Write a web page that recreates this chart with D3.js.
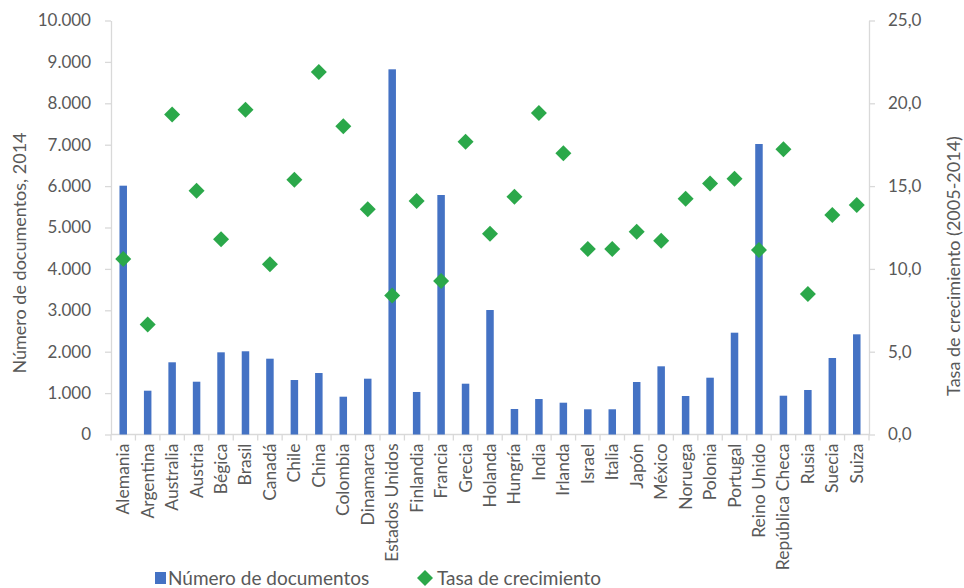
<!DOCTYPE html>
<html>
<head>
<meta charset="utf-8">
<script src="https://cdn.jsdelivr.net/npm/d3@7"></script>
<style>
  html, body { margin: 0; padding: 0; background: #fff; }
  svg { display: block; font-family: Lato, "Noto Sans", sans-serif; }
</style>
</head>
<body>
<svg id="chart" width="964" height="588"></svg>
<script>
const paises = ["Alemania","Argentina","Australia","Austria","Bégica","Brasil","Canadá","Chile","China","Colombia","Dinamarca","Estados Unidos","Finlandia","Francia","Grecia","Holanda","Hungría","India","Irlanda","Israel","Italia","Japón","México","Noruega","Polonia","Portugal","Reino Unido","República Checa","Rusia","Suecia","Suiza"];
const documentos = [6010,1058,1744,1275,1985,2010,1831,1316,1485,913,1348,8821,1027,5785,1227,3007,616,857,768,609,609,1268,1647,930,1372,2459,7017,937,1075,1848,2420];
const crecimiento = [10.6,6.65,19.33,14.72,11.79,19.61,10.28,15.39,21.89,18.61,13.6,8.4,14.1,9.27,17.68,12.13,14.36,19.41,16.98,11.2,11.2,12.25,11.7,14.24,15.15,15.45,11.14,17.22,8.48,13.25,13.86];
const ticksIzq = [0,1000,2000,3000,4000,5000,6000,7000,8000,9000,10000];
const ticksDer = [0,5,10,15,20,25];
const serieBarras = "Número de documentos";
const serieRombos = "Tasa de crecimiento";
const tituloIzq = "Número de documentos, 2014";
const tituloDer = "Tasa de crecimiento (2005-2014)";

const azul = "#4472C4", verde = "#2BA84A", gris = "#D9D9D9", texto = "#595959";
const svg = d3.select("#chart");
const m = { left: 111, right: 869, top: 20.5, bottom: 434.5 };

const x = d3.scaleBand().domain(paises).range([m.left, m.right]).padding(0);
const yIzq = d3.scaleLinear().domain([0, 10000]).range([m.bottom, m.top]);
const yDer = d3.scaleLinear().domain([0, 25]).range([m.bottom, m.top]);

const local = d3.formatLocale({ decimal: ",", thousands: ".", grouping: [3], currency: ["", ""] });
const fmtMiles = local.format(",.0f");
const fmtDec = local.format(".1f");

function estiloEje(g) {
  g.select(".domain").attr("stroke", gris).attr("stroke-width", 1.3);
  g.selectAll(".tick line").attr("stroke", gris).attr("stroke-width", 1.3);
  g.selectAll(".tick text").attr("fill", texto).style("font-family", "Lato, sans-serif");
}

// Eje izquierdo
svg.append("g")
  .attr("transform", `translate(${m.left},0)`)
  .call(d3.axisLeft(yIzq).tickValues(ticksIzq).tickFormat(fmtMiles).tickSize(6).tickPadding(14).tickSizeOuter(0))
  .call(estiloEje)
  .call(g => g.selectAll(".tick text").style("font-size", "17px"));

// Eje derecho
svg.append("g")
  .attr("transform", `translate(${m.right},0)`)
  .call(d3.axisRight(yDer).tickValues(ticksDer).tickFormat(fmtDec).tickSize(6).tickPadding(13).tickSizeOuter(0))
  .call(estiloEje)
  .call(g => g.selectAll(".tick text").style("font-size", "17px"));

// Eje de categorías
const ejeX = svg.append("g").attr("transform", `translate(0,${m.bottom})`);
ejeX.append("line").attr("x1", m.left).attr("x2", m.right).attr("stroke", gris).attr("stroke-width", 1.3);
const bordes = paises.map(p => x(p)).concat([m.right]);
ejeX.selectAll("line.sep").data(bordes).join("line")
  .attr("class", "sep").attr("x1", d => d).attr("x2", d => d).attr("y1", 0).attr("y2", 6)
  .attr("stroke", gris).attr("stroke-width", 1.3);
ejeX.selectAll("text").data(paises).join("text")
  .attr("transform", d => `translate(${x(d) + x.bandwidth() / 2 + 6},9) rotate(-90)`)
  .attr("text-anchor", "end")
  .attr("fill", texto)
  .style("font-size", "17.5px")
  .text(d => d);

// Barras
const anchoBarra = 7.5;
svg.append("g").selectAll("rect").data(paises).join("rect")
  .attr("x", (d) => x(d) + x.bandwidth() / 2 - anchoBarra / 2)
  .attr("width", anchoBarra)
  .attr("y", (d, i) => yIzq(documentos[i]))
  .attr("height", (d, i) => yIzq(0) - yIzq(documentos[i]))
  .attr("fill", azul);

// Rombos
const r = 8;
const rombo = `M0,${-r}L${r},0L0,${r}L${-r},0Z`;
svg.append("g").selectAll("path").data(paises).join("path")
  .attr("d", rombo)
  .attr("transform", (d, i) => `translate(${x(d) + x.bandwidth() / 2},${yDer(crecimiento[i])})`)
  .attr("fill", verde);

// Títulos de ejes
svg.append("text")
  .attr("transform", "translate(26,253) rotate(-90)")
  .attr("text-anchor", "middle").attr("fill", texto).style("font-size", "18px")
  .text(tituloIzq);
svg.append("text")
  .attr("transform", "translate(960,266) rotate(-90)")
  .attr("text-anchor", "middle").attr("fill", texto).style("font-size", "18px")
  .text(tituloDer);

// Leyenda
const ley = svg.append("g");
ley.append("rect").attr("x", 155).attr("y", 572).attr("width", 11).attr("height", 12).attr("fill", azul);
ley.append("text").attr("x", 168).attr("y", 585).attr("fill", texto).style("font-size", "19px").text(serieBarras);
ley.append("path").attr("d", rombo).attr("transform", "translate(425,578)").attr("fill", verde);
ley.append("text").attr("x", 437).attr("y", 585).attr("fill", texto).style("font-size", "19px").text(serieRombos);
</script>
</body>
</html>
